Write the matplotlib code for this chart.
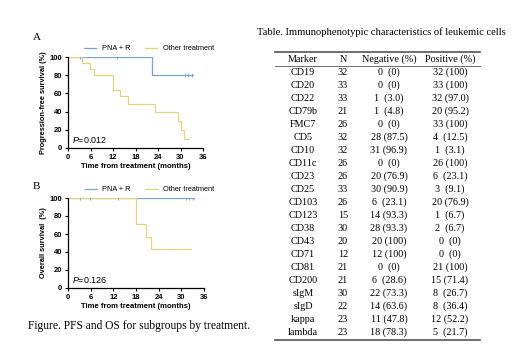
import matplotlib.pyplot as plt

# Kaplan-Meier curves (months, survival %)
pfs_pna_t = [0, 22.3, 33.2]
pfs_pna_s = [100, 80, 80]
pfs_pna_cens_t = [3.1, 13.0, 31.2, 32.1, 33.0]
pfs_pna_cens_s = [100, 100, 80, 80, 80]

pfs_oth_t = [0, 3.7, 5.9, 6.9, 12.0, 13.8, 16.0, 23.2, 29.4, 30.1, 31.0, 32.3]
pfs_oth_s = [100, 93, 87, 80, 64, 57, 48, 40, 30, 20, 10, 10]

os_pna_t = [0, 33.4]
os_pna_s = [100, 100]
os_pna_cens_t = [3.1, 5.7, 13.2, 31.2, 32.1, 33.0]
os_pna_cens_s = [100, 100, 100, 100, 100, 100]

os_oth_t = [0, 18.1, 20.7, 22.1, 32.5]
os_oth_s = [100, 71, 57, 43, 43]

markers = ["CD19", "CD20", "CD22", "CD79b", "FMC7", "CD5", "CD10", "CD11c",
           "CD23", "CD25", "CD103", "CD123", "CD38", "CD43", "CD71", "CD81",
           "CD200", "sIgM", "sIgD", "kappa", "lambda"]
n_vals = [32, 33, 33, 21, 26, 32, 32, 26, 26, 33, 26, 15, 30, 20, 12, 21,
          21, 30, 22, 23, 23]
negative = ["0  (0)", "0  (0)", "1  (3.0)", "1  (4.8)", "0  (0)", "28 (87.5)",
            "31 (96.9)", "0  (0)", "20 (76.9)", "30 (90.9)", "6  (23.1)",
            "14 (93.3)", "28 (93.3)", "20 (100)", "12 (100)", "0  (0)",
            "6  (28.6)", "22 (73.3)", "14 (63.6)", "11 (47.8)", "18 (78.3)"]
positive = ["32 (100)", "33 (100)", "32 (97.0)", "20 (95.2)", "33 (100)",
            "4  (12.5)", "1  (3.1)", "26 (100)", "6  (23.1)", "3  (9.1)",
            "20 (76.9)", "1  (6.7)", "2  (6.7)", "0  (0)", "0  (0)",
            "21 (100)", "15 (71.4)", "8  (26.7)", "8  (36.4)", "12 (52.2)",
            "5  (21.7)"]
header = ["Marker", "N", "Negative (%)", "Positive (%)"]

BLUE = "#74a3d6"
YELLOW = "#e8d27c"
SANS = "Liberation Sans"
SERIF = "Liberation Serif"

plt.rcParams["mathtext.fontset"] = "custom"
plt.rcParams["mathtext.rm"] = "Liberation Sans"
plt.rcParams["mathtext.it"] = "Liberation Sans:italic"

fig = plt.figure(figsize=(5.2, 3.6), dpi=100)


def km_panel(rect, pna, oth, cens, ylabel, pval, letter, letter_y):
    ax = fig.add_axes(rect)
    ax.step(pna[0], pna[1], where="post", color=BLUE, lw=0.9, label="PNA + R")
    ax.step(oth[0], oth[1], where="post", color=YELLOW, lw=0.9,
            label="Other treatment")
    ax.plot(cens[0], cens[1], ls="none", marker="|", ms=2.5, mew=0.6,
            color=BLUE)
    ax.set_xlim(0, 36)
    ax.set_ylim(0, 100)
    ax.set_xticks(range(0, 37, 6))
    ax.set_yticks(range(0, 101, 20))
    for s in ("top", "right"):
        ax.spines[s].set_visible(False)
    for s in ("left", "bottom"):
        ax.spines[s].set_linewidth(0.9)
    ax.tick_params(length=2.5, width=0.8, pad=1.5, labelsize=5.5)
    for lab in ax.get_xticklabels() + ax.get_yticklabels():
        lab.set_fontfamily(SANS)
        lab.set_fontweight("bold")
    ax.set_xlabel("Time from treatment (months)", fontsize=5.5,
                  fontweight="bold", family=SANS, labelpad=2)
    ax.set_ylabel(ylabel, fontsize=5.3, fontweight="bold", family=SANS,
                  labelpad=2)
    ax.text(1.0, 9, r"$\it{P}$" + pval, fontsize=6.4, family=SANS,
            va="center")
    ax.legend(loc="center", bbox_to_anchor=(0.6, 1.09), ncol=2,
              frameon=False, prop={"family": SANS, "size": 5.3},
              handlelength=1.6, columnspacing=2.0, handletextpad=0.8)
    fig.text(33 / 520, 1 - letter_y / 360, letter, family=SERIF, fontsize=8,
             va="center")
    return ax


km_panel([68 / 520, 1 - 148 / 360, 135 / 520, 91 / 360],
         (pfs_pna_t, pfs_pna_s), (pfs_oth_t, pfs_oth_s),
         (pfs_pna_cens_t, pfs_pna_cens_s),
         "Progression-free survival (%)", "=0.012", "A", 37)
km_panel([68 / 520, 1 - 288 / 360, 136 / 520, 90 / 360],
         (os_pna_t, os_pna_s), (os_oth_t, os_oth_s),
         (os_pna_cens_t, os_pna_cens_s),
         "Overall survival  (%)", "=0.126", "B", 186)

fig.text(28 / 520, 1 - 326 / 360,
         "Figure. PFS and OS for subgroups by treatment.",
         family=SERIF, fontsize=8.3, va="center")

# table drawn on a pixel-coordinate overlay
tab = fig.add_axes([0, 0, 1, 1])
tab.set_xlim(0, 520)
tab.set_ylim(360, 0)
tab.axis("off")
tab.text(381, 32, "Table. Immunophenotypic characteristics of leukemic cells",
         family=SERIF, fontsize=7.55, ha="center", va="center")
col_x = [303, 343, 389, 450]
row_h = 13
y0 = 59.5
tab.plot([275, 480], [52, 52], color="#555555", lw=1.2)
tab.plot([275, 480], [65.5, 65.5], color="#555555", lw=0.6)
for x, h in zip(col_x, header):
    tab.text(x, y0, h, family=SERIF, fontsize=7.3, ha="center", va="center")
for i, (m, n, neg, pos) in enumerate(zip(markers, n_vals, negative, positive)):
    y = y0 + row_h * (i + 1)
    for x, t in zip(col_x, (m, str(n), neg, pos)):
        tab.text(x, y, t, family=SERIF, fontsize=7.3, ha="center",
                 va="center")
tab.plot([275, 480], [339.5, 339.5], color="#555555", lw=1.2)

fig.savefig("out.png", dpi=100)
